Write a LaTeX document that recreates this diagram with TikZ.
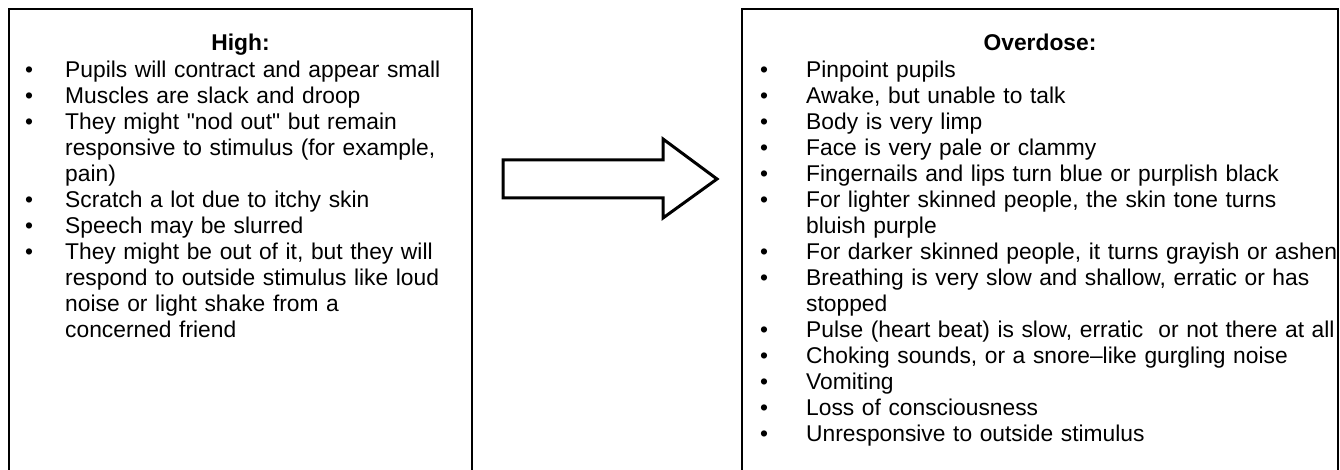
\documentclass[tikz,border=0pt]{standalone}
\usepackage{fontspec}
\setmainfont{Liberation Sans}[Ligatures=TeXOff]
\usetikzlibrary{positioning}

\newcommand{\bitemH}[1]{\noindent\hangindent=40pt\hangafter=1\makebox[40pt][l]{\textbullet}#1\par}
\newcommand{\bitemO}[1]{\noindent\hangindent=46pt\hangafter=1\makebox[46pt][l]{\textbullet}#1\par}

\tikzset{
    boxline/.style={draw=black, line width=1.2pt},
    headtext/.style={font=\fontsize{22.8}{26}\selectfont\bfseries, inner sep=0pt, anchor=base},
    listbox/.style={font=\fontsize{22.8}{26}\selectfont, inner sep=0pt, align=left, text width=#1, anchor=base west},
    blockarrow/.style={draw=black, line width=3pt, line join=miter, fill=white}
}

\begin{document}
\begin{tikzpicture}[x=1pt,y=-1pt]
        \useasboundingbox (0,0) rectangle (1340,470);
        % open boxes
        \draw[boxline] (9,470) -- (9,9) -- (472,9) -- (472,470);
        \draw[boxline] (742,470) -- (742,9) -- (1338,9) -- (1338,470);
        % headings
        \node[headtext] (highhead) at (240.5,51) {High:};
        \node[headtext] (odhead) at (1040,51) {Overdose:};
        % lists
        \node[listbox=445pt] (highlist) at (25,78) {%
            \bitemH{Pupils will contract and appear small}%
            \bitemH{Muscles are slack and droop}%
            \bitemH{They might "nod out" but remain\newline responsive to stimulus (for example,\newline pain)}%
            \bitemH{Scratch a lot due to itchy skin}%
            \bitemH{Speech may be slurred}%
            \bitemH{They might be out of it, but they will\newline respond to outside stimulus like loud\newline noise or light shake from a\newline concerned friend}};
        \node[listbox=600pt] (odlist) at (760,78) {%
            \bitemO{Pinpoint pupils}%
            \bitemO{Awake, but unable to talk}%
            \bitemO{Body is very limp}%
            \bitemO{Face is very pale or clammy}%
            \bitemO{Fingernails and lips turn blue or purplish black}%
            \bitemO{For lighter skinned people, the skin tone turns\newline bluish purple}%
            \bitemO{For darker skinned people, it turns grayish or ashen}%
            \bitemO{Breathing is very slow and shallow, erratic or has\newline stopped}%
            \bitemO{Pulse (heart beat) is slow, erratic\ \ or not there at all}%
            \bitemO{Choking sounds, or a snore–like gurgling noise}%
            \bitemO{Vomiting}%
            \bitemO{Loss of consciousness}%
            \bitemO{Unresponsive to outside stimulus}};
        % arrow between the boxes
        \draw[blockarrow] (503,160) -- (663,160) -- (663,139) -- (717,179)
            -- (663,218) -- (663,198) -- (503,198) -- cycle;
    \end{tikzpicture}
\end{document}
